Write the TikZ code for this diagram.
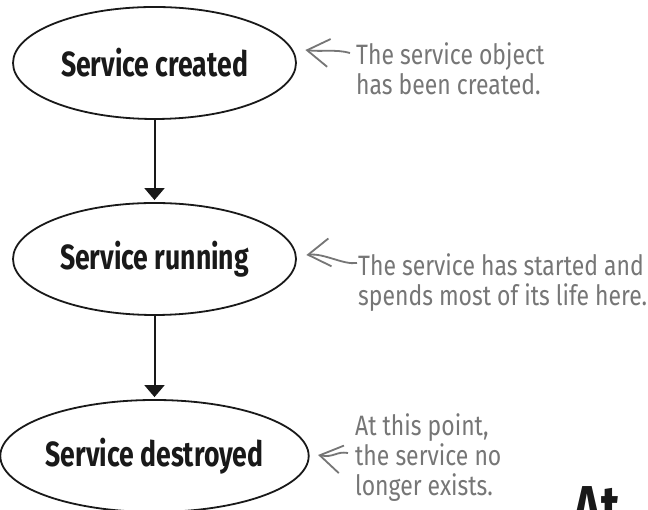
\documentclass[tikz,border=0pt]{standalone}
\usepackage{fontspec}
\usepackage{tikz}
\usetikzlibrary{arrows.meta,positioning,shapes.geometric}
\newfontfamily\statefont[FakeStretch=0.76]{Fira Sans}
\newfontfamily\notefont[FakeStretch=0.82]{Fira Sans}
\definecolor{notegray}{RGB}{118,118,118}
\definecolor{inkblack}{RGB}{25,25,25}

\begin{document}
\begin{tikzpicture}[x=1pt,y=1pt,
    state/.style={ellipse,draw=inkblack,line width=1.8pt,minimum width=283pt,
      minimum height=112pt,inner sep=0pt,text=inkblack,
      font=\statefont\bfseries\fontsize{35}{37}\selectfont},
    note/.style={anchor=north west,align=left,inner sep=0pt,text=notegray,
      font=\notefont\fontsize{28}{30}\selectfont},
    flow/.style={-{Triangle[length=12pt,width=20pt]},line width=2pt,draw=inkblack},
    pointer/.style={-{Straight Barb[length=22pt,width=28pt,line width=1.8pt]},
      line width=1.8pt,draw=notegray}]
        \useasboundingbox (0,0) rectangle (648,510);
        \clip (0,0) rectangle (648,510);
        \fill[white] (0,0) rectangle (648,510);

        % life cycle states
        \node[state] (created)   at (154.5,447) {Service created};
        \node[state] (running)   at (154.5,251) {Service running};
        \node[state] (destroyed) at (154.5,54)  {Service destroyed};

        % transitions
        \draw[flow,shorten >=2pt] (created.south) -- (running.north);
        \draw[flow,shorten >=2pt] (running.south) -- (destroyed.north);

        % handwritten notes
        \node[note] (creatednote)   at (356,468) {The service object\\has been created.};
        \node[note] (runningnote)   at (358,257) {The service has started and\\spends most of its life here.};
        \node[note] (destroyednote) at (355,97)  {At this point,\\the service no\\longer exists.};

        % note pointers
        \draw[pointer] ([shift={(-6,-11)}]creatednote.north west)
          .. controls +(-14,4) and +(16,-2) .. ([shift={(8.5,13)}]created.east);
        \draw[pointer] ([shift={(-1,-10)}]runningnote.north west)
          .. controls +(-14,-2) and +(18,2) .. ([shift={(9.5,4)}]running.east);
        \draw[pointer] ([shift={(-7,-40)}]destroyednote.north west)
          .. controls +(-12,2) and +(16,-3) .. ([shift={(8.5,1)}]destroyed.east);

        % cut-off heading
        \node[anchor=north west,inner sep=0pt,text=inkblack,
          font=\statefont\bfseries\fontsize{62}{62}\selectfont] (heading) at (573,24) {At};
      \end{tikzpicture}
\end{document}
